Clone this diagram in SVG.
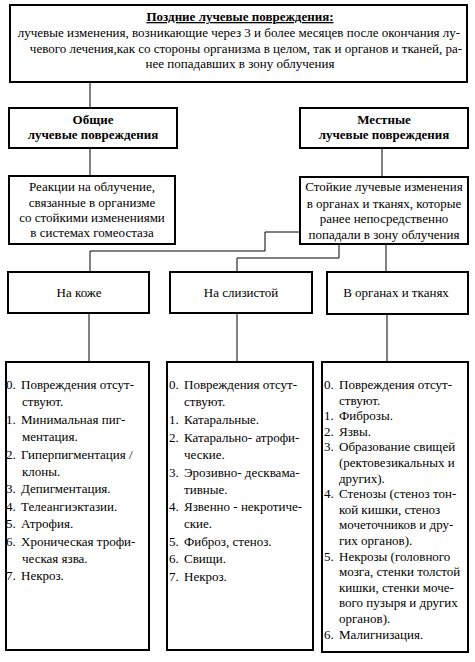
<svg xmlns="http://www.w3.org/2000/svg" width="475" height="662" viewBox="0 0 475 662" font-family="Liberation Serif, DejaVu Serif, serif" font-size="13">
<style>
.box{fill:#fff;stroke:#000;stroke-width:2}
.con{fill:none;stroke:#000;stroke-width:1}
text{font-family:"Liberation Serif","DejaVu Serif",serif;font-size:13px;fill:#000}
.c{text-anchor:middle}
.b{font-weight:bold}
</style>
<rect width="475" height="662" fill="#fff"/>
<g id="connectors">
<line class="con" x1="90" y1="82" x2="90" y2="108"/>
<line class="con" x1="90" y1="148" x2="90" y2="176"/>
<line class="con" x1="382" y1="148" x2="382" y2="177"/>
<polyline class="con" points="300,232 265,232 265,251 90,251 90,272"/>
<polyline class="con" points="339,244 339,258 237,258 237,272"/>
<line class="con" x1="386" y1="244" x2="386" y2="272"/>
<line class="con" x1="89" y1="313" x2="89" y2="362"/>
<line class="con" x1="237" y1="313" x2="237" y2="362"/>
<line class="con" x1="387" y1="313" x2="387" y2="362"/>
</g>
<g id="late">
<rect class="box" x="10" y="5" width="457" height="77"/>
<text class="c b" x="240" y="21" text-decoration="underline">Поздние лучевые повреждения:</text>
<text class="c" x="239" y="37">лучевые изменения, возникающие через 3 и более месяцев после окончания лу-</text>
<text class="c" x="246" y="53">чевого лечения,как со стороны организма в целом, так и органов и тканей, ра-</text>
<text class="c" x="240" y="68">нее попадавших в зону облучения</text>
</g>
<g id="general">
<rect class="box" x="9" y="108" width="168" height="40"/>
<text class="c b" x="93" y="124">Общие</text>
<text class="c b" x="93" y="139">лучевые повреждения</text>
</g>
<g id="local">
<rect class="box" x="300" y="108" width="168" height="40"/>
<text class="c b" x="384" y="124">Местные</text>
<text class="c b" x="384" y="139">лучевые повреждения</text>
</g>
<g id="reactions">
<rect class="box" x="9" y="176" width="166" height="68"/>
<text class="c" x="92" y="191">Реакции на облучение,</text>
<text class="c" x="92" y="207">связанные в организме</text>
<text class="c" x="92" y="222">со стойкими изменениями</text>
<text class="c" x="92" y="237">в системах гомеостаза</text>
</g>
<g id="persistent">
<rect class="box" x="300" y="177" width="168" height="67"/>
<text class="c" x="384" y="191">Стойкие лучевые изменения</text>
<text class="c" x="384" y="208">в органах и тканях, которые</text>
<text class="c" x="384" y="223">ранее непосредственно</text>
<text class="c" x="384" y="239">попадали  в зону облучения</text>
</g>
<g id="skin">
<rect class="box" x="8" y="272" width="141" height="41"/>
<text class="c" x="79" y="297">На коже</text>
</g>
<g id="mucosa">
<rect class="box" x="170" y="272" width="142" height="41"/>
<text class="c" x="241" y="297">На слизистой</text>
</g>
<g id="organs">
<rect class="box" x="327" y="272" width="141" height="42"/>
<text class="c" x="396" y="297">В органах и тканях</text>
</g>
<g id="skin-list">
<rect class="box" x="6" y="362" width="143" height="288"/>
<text x="6" y="389">0.</text><text x="21" y="389">Повреждения отсут-</text>
<text x="22" y="406">ствуют.</text>
<text x="6" y="424">1.</text><text x="21" y="424">Минимальная пиг-</text>
<text x="22" y="441">ментация.</text>
<text x="6" y="459">2.</text><text x="21" y="459">Гиперпигментация /</text>
<text x="22" y="476">клоны.</text>
<text x="6" y="493">3.</text><text x="21" y="493">Депигментация.</text>
<text x="6" y="511">4.</text><text x="21" y="511">Телеангиэктазии.</text>
<text x="6" y="528">5.</text><text x="21" y="528">Атрофия.</text>
<text x="6" y="546">6.</text><text x="21" y="546">Хроническая трофи-</text>
<text x="22" y="563">ческая язва.</text>
<text x="6" y="580">7.</text><text x="21" y="580">Некроз.</text>
</g>
<g id="mucosa-list">
<rect class="box" x="167" y="362" width="146" height="288"/>
<text x="169" y="389">0.</text><text x="184" y="389">Повреждения отсут-</text>
<text x="184" y="406">ствуют.</text>
<text x="169" y="424">1.</text><text x="184" y="424">Катаральные.</text>
<text x="169" y="442">2.</text><text x="184" y="442">Катарально- атрофи-</text>
<text x="184" y="459">ческие.</text>
<text x="169" y="477">3.</text><text x="184" y="477">Эрозивно- десквама-</text>
<text x="184" y="494">тивные.</text>
<text x="169" y="511">4.</text><text x="184" y="511">Язвенно - некротиче-</text>
<text x="184" y="528">ские.</text>
<text x="169" y="546">5.</text><text x="184" y="546">Фиброз, стеноз.</text>
<text x="169" y="563">6.</text><text x="184" y="563">Свищи.</text>
<text x="169" y="581">7.</text><text x="184" y="581">Некроз.</text>
</g>
<g id="organs-list">
<rect class="box" x="322" y="362" width="146" height="290"/>
<text x="324" y="389">0.</text><text x="339" y="389">Повреждения отсут-</text>
<text x="339" y="404.6">ствуют.</text>
<text x="324" y="420.2">1.</text><text x="339" y="420.2">Фиброзы.</text>
<text x="324" y="435.8">2.</text><text x="339" y="435.8">Язвы.</text>
<text x="324" y="451.4">3.</text><text x="339" y="451.4">Образование свищей</text>
<text x="339" y="467">(ректовезикальных и</text>
<text x="339" y="482.6">других).</text>
<text x="324" y="498.2">4.</text><text x="339" y="498.2">Стенозы (стеноз тон-</text>
<text x="339" y="513.8">кой кишки, стеноз</text>
<text x="339" y="529.4">мочеточников и дру-</text>
<text x="339" y="545">гих органов).</text>
<text x="324" y="560.6">5.</text><text x="339" y="560.6">Некрозы (головного</text>
<text x="339" y="576.2">мозга, стенки толстой</text>
<text x="339" y="591.8">кишки, стенки моче-</text>
<text x="339" y="607.4">вого пузыря и других</text>
<text x="339" y="623">органов).</text>
<text x="324" y="638.6">6.</text><text x="339" y="638.6">Малигнизация.</text>
</g>
</svg>
